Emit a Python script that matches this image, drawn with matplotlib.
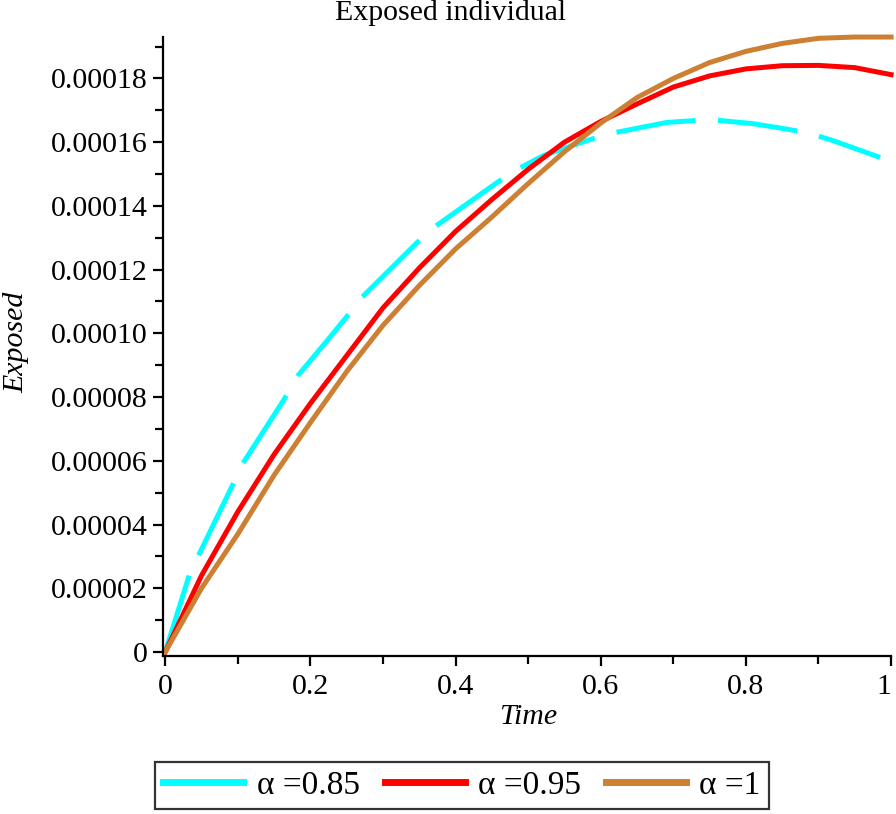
import matplotlib
matplotlib.use("Agg")
import matplotlib.pyplot as plt
from matplotlib.ticker import MultipleLocator, FixedLocator

plt.rcParams['font.family'] = ['Liberation Serif', 'DejaVu Serif']

# ---- data ----
t_085 = [0, 0.034, 0.048, 0.096, 0.107, 0.163, 0.183, 0.227, 0.255, 0.271, 0.347, 0.368,
         0.457, 0.482, 0.521, 0.581, 0.613, 0.691, 0.751, 0.81, 0.851, 0.884, 0.92, 0.985]
e_085 = [0, 2.48e-5, 3.13e-5, 5.39e-5, 5.92e-5, 7.9e-5, 8.68e-5, 9.88e-5, 1.066e-4,
         1.113e-4, 1.285e-4, 1.329e-4, 1.473e-4, 1.511e-4, 1.558e-4, 1.605e-4, 1.627e-4,
         1.662e-4, 1.671e-4, 1.658e-4, 1.643e-4, 1.63e-4, 1.605e-4, 1.552e-4]

t_095 = [0, 0.05, 0.1, 0.15, 0.2, 0.25, 0.3, 0.35, 0.4, 0.45, 0.5, 0.55, 0.6, 0.65,
         0.7, 0.75, 0.8, 0.85, 0.9, 0.95, 1.0]
e_095 = [0, 2.4e-5, 4.4e-5, 6.2e-5, 7.8e-5, 9.3e-5, 1.08e-4, 1.205e-4, 1.32e-4, 1.42e-4,
         1.515e-4, 1.60e-4, 1.665e-4, 1.72e-4, 1.773e-4, 1.808e-4, 1.83e-4, 1.84e-4,
         1.841e-4, 1.834e-4, 1.812e-4]

t_100 = [0, 0.05, 0.1, 0.15, 0.2, 0.25, 0.3, 0.35, 0.4, 0.45, 0.5, 0.55, 0.6, 0.65,
         0.7, 0.75, 0.8, 0.85, 0.9, 0.95, 1.0]
e_100 = [0, 2.0e-5, 3.7e-5, 5.55e-5, 7.2e-5, 8.8e-5, 1.025e-4, 1.15e-4, 1.265e-4, 1.365e-4,
         1.47e-4, 1.57e-4, 1.66e-4, 1.74e-4, 1.80e-4, 1.85e-4, 1.885e-4, 1.91e-4,
         1.926e-4, 1.93e-4, 1.93e-4]

labels = ["\u03b1 =0.85", "\u03b1 =0.95", "\u03b1 =1"]
colors = ["#00FFFF", "#FF0000", "#CD7F32"]

ytick_vals = [0, 2e-5, 4e-5, 6e-5, 8e-5, 1e-4, 1.2e-4, 1.4e-4, 1.6e-4, 1.8e-4]
ytick_labels = ["0", "0.00002", "0.00004", "0.00006", "0.00008", "0.00010",
                "0.00012", "0.00014", "0.00016", "0.00018"]
xtick_vals = [0, 0.2, 0.4, 0.6, 0.8, 1.0]
xtick_labels = ["0", "0.2", "0.4", "0.6", "0.8", "1"]

FS = 21.5

fig = plt.figure(figsize=(8.96, 8.14), dpi=100)
ax = fig.add_axes([0.182, 0.194, 0.8125, 0.7605])

l1, = ax.plot(t_085, e_085, color=colors[0], lw=3.6, linestyle=(0, (16, 4.5)),
              dash_capstyle='butt', label=labels[0], clip_on=False)
l2, = ax.plot(t_095, e_095, color=colors[1], lw=3.6, label=labels[1], clip_on=False)
l3, = ax.plot(t_100, e_100, color=colors[2], lw=3.6, label=labels[2], clip_on=False)

ax.set_xlim(-0.003, 1.0)
ax.set_ylim(-1.3e-6, 1.93e-4)

for s in ['top', 'right']:
    ax.spines[s].set_visible(False)
for s in ['left', 'bottom']:
    ax.spines[s].set_linewidth(1.6)

ax.xaxis.set_major_locator(FixedLocator(xtick_vals))
ax.set_xticklabels(xtick_labels)
ax.xaxis.set_minor_locator(MultipleLocator(0.1))
ax.yaxis.set_major_locator(FixedLocator(ytick_vals))
ax.set_yticklabels(ytick_labels)
ax.yaxis.set_minor_locator(MultipleLocator(1e-5))
ax.tick_params(which='both', direction='out', width=1.6, labelsize=FS)
ax.tick_params(axis='y', pad=4)
ax.tick_params(axis='x', pad=6)
ax.tick_params(which='major', length=7)
ax.tick_params(which='minor', length=6)
ax.get_xticklabels()[-1].set_horizontalalignment('right')

fig.text(0.503, 1 - 13 / 814, "Exposed individual", fontsize=FS, ha='center', va='center')
fig.text(528 / 896, 1 - 717 / 814, "Time", fontsize=FS, style='italic',
         ha='center', va='center')
fig.text(16 / 896, 1 - 342 / 814, "Exposed", fontsize=FS, style='italic',
         rotation=90, ha='center', va='center')

leg = fig.legend(handles=[l1, l2, l3], labels=labels, loc='lower left',
                 bbox_to_anchor=(155 / 896, 1 - 809 / 814), ncol=3, frameon=True,
                 fancybox=False, edgecolor='black', fontsize=24, handlelength=2.4,
                 handletextpad=0.4, columnspacing=0.75, borderpad=0.25,
                 borderaxespad=0)
leg.get_frame().set_linewidth(1.6)
for h in leg.legend_handles:
    h.set_linestyle('-')
    h.set_linewidth(5)

fig.savefig("out.png", dpi=100)
